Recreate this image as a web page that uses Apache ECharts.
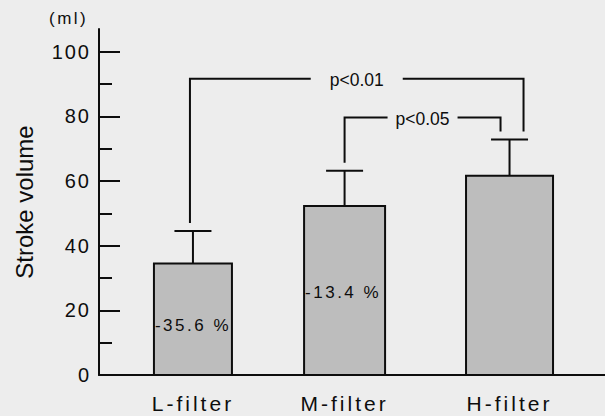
<!DOCTYPE html>
<html><head><meta charset="utf-8">
<script src="https://cdn.jsdelivr.net/npm/echarts@6/dist/echarts.min.js"></script>
<style>
html,body{margin:0;padding:0;background:#ededed;}
#chart{width:605px;height:416px;}
#chart text[style*="20px"]{letter-spacing:2px;}
#chart text[style*="21px"]{letter-spacing:3px;}
#chart text[style*="17px"]{letter-spacing:2.5px;}
</style></head><body><div id="chart"></div>
<script>
// ---- data ----
const categories = ['L-filter', 'M-filter', 'H-filter'];
const means = [34.5, 52.3, 61.6];
const sds = [10.0, 10.9, 11.2];
const changes = [-35.6, -13.4, null];
const yTickLabels = [0, 20, 40, 60, 80, 100];
const yMinorTicks = [10, 30, 50, 70, 90];
const comparisonFrom = [0, 1];
const comparisonTo = [2, 2];
const comparisonLevel = [91.6, 79.6];
const comparisonText = ['p<0.01', 'p<0.05'];
const unitLabel = '(ml)';
const yName = 'Stroke volume';

// ---- layout ----
const FONT = '"Liberation Sans", Arial, Helvetica, sans-serif';
const INK = '#0d0d0d';
const slots = [0.557, 1.456, 2.434];
const barWidths = [78, 81, 87];
const capWidth = 37;
const legOffsets = [[-3, 14], [0, -9]];
const gapHalf = [46, 35];
const legClearance = 8;
const pctFrac = [0.44, 0.49, 0.45];

function nearestIndex(v) {
  let best = 0;
  for (let i = 1; i < slots.length; i++) {
    if (Math.abs(slots[i] - v) < Math.abs(slots[best] - v)) best = i;
  }
  return best;
}

const chart = echarts.init(document.getElementById('chart'), null, { renderer: 'svg' });

const lineStyle = { stroke: INK, lineWidth: 2, fill: 'none' };

const option = {
  backgroundColor: '#ededed',
  animation: false,
  title: {
    text: unitLabel, left: 49, top: 10, padding: 0,
    textStyle: { fontSize: 17, fontWeight: 'normal', color: INK, fontFamily: FONT }
  },
  grid: { left: 99, right: 0, top: 29, bottom: 41, containLabel: false },
  xAxis: {
    type: 'value', min: 0, max: 3,
    axisLine: { show: true, onZero: false, lineStyle: { color: INK, width: 2 } },
    axisTick: { show: false },
    splitLine: { show: false },
    axisLabel: {
      customValues: slots,
      formatter: v => categories[nearestIndex(v)],
      margin: 18, fontSize: 21, color: INK, fontFamily: FONT
    }
  },
  yAxis: [{
    type: 'value', min: 0, max: 107, position: 'left',
    axisLine: { show: true, onZero: false, lineStyle: { color: INK, width: 2 } },
    axisTick: { show: true, inside: true, length: 21, customValues: yTickLabels, lineStyle: { color: INK, width: 2 } },
    axisLabel: { customValues: yTickLabels, margin: 8, fontSize: 20, color: INK, fontFamily: FONT },
    splitLine: { show: false },
    name: yName, nameLocation: 'middle', nameGap: 63, nameRotate: 90,
    nameTextStyle: { fontSize: 24, color: INK, fontFamily: FONT }
  }, {
    type: 'value', min: 0, max: 107, position: 'left', offset: 0,
    axisLine: { show: false },
    axisTick: { show: true, inside: true, length: 13, customValues: yMinorTicks, lineStyle: { color: INK, width: 2 } },
    axisLabel: { show: false },
    splitLine: { show: false }
  }],
  series: [{
    type: 'custom',
    coordinateSystem: 'cartesian2d',
    clip: false,
    encode: { x: 0, y: 1 },
    data: means.map((m, i) => [slots[i], m, sds[i]]),
    renderItem: function (params, api) {
      const i = params.dataIndex;
      const x = api.value(0), y = api.value(1), sd = api.value(2);
      const w = barWidths[i];
      const base = api.coord([x, 0]);
      const top = api.coord([x, y]);
      const errTop = api.coord([x, y + sd]);
      const children = [
        { type: 'line', shape: { x1: top[0], y1: top[1], x2: errTop[0], y2: errTop[1] }, style: lineStyle },
        { type: 'line', shape: { x1: errTop[0] - capWidth / 2, y1: errTop[1], x2: errTop[0] + capWidth / 2, y2: errTop[1] }, style: lineStyle },
        { type: 'rect', shape: { x: base[0] - w / 2, y: top[1], width: w, height: base[1] - top[1] },
          style: { fill: '#bdbdbd', stroke: INK, lineWidth: 2 } }
      ];
      if (changes[i] !== null) {
        const ly = api.coord([x, y * pctFrac[i]])[1];
        children.push({
          type: 'text',
          style: {
            text: changes[i].toFixed(1) + ' %', x: base[0] - w / 2 + 1, y: ly,
            align: 'left', verticalAlign: 'middle',
            fontSize: 17, fontFamily: FONT, fill: INK
          }
        });
      }
      return { type: 'group', children: children };
    }
  }, {
    type: 'custom',
    coordinateSystem: 'cartesian2d',
    clip: false,
    encode: { x: 0, y: 1 },
    data: comparisonLevel.map((lv, k) => [slots[comparisonFrom[k]], lv]),
    renderItem: function (params, api) {
      const k = params.dataIndex;
      const a = comparisonFrom[k], b = comparisonTo[k];
      const lvY = api.coord([0, comparisonLevel[k]])[1];
      const xa = api.coord([slots[a], 0])[0] + legOffsets[k][0];
      const xb = api.coord([slots[b], 0])[0] + legOffsets[k][1];
      const ya = api.coord([0, means[a] + sds[a]])[1] - legClearance;
      const yb = api.coord([0, means[b] + sds[b]])[1] - legClearance;
      const xm = (xa + xb) / 2;
      return {
        type: 'group',
        children: [
          { type: 'polyline', shape: { points: [[xa, ya], [xa, lvY], [xm - gapHalf[k], lvY]] }, style: lineStyle },
          { type: 'polyline', shape: { points: [[xm + gapHalf[k], lvY], [xb, lvY], [xb, yb]] }, style: lineStyle },
          { type: 'text', style: { text: comparisonText[k], x: xm, y: lvY + 1, align: 'center', verticalAlign: 'middle',
            fontSize: 17.5, fontFamily: FONT, fill: INK } }
        ]
      };
    }
  }]
};
chart.setOption(option);
</script>
</body></html>
